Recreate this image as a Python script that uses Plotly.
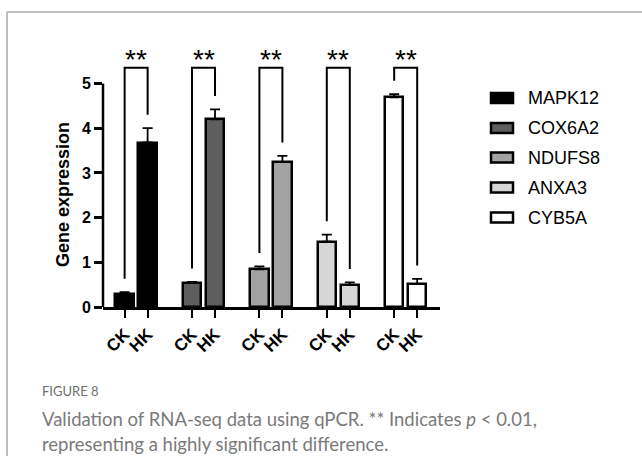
import plotly.graph_objects as go

# ---------------- data ----------------
genes = ["MAPK12", "COX6A2", "NDUFS8", "ANXA3", "CYB5A"]
groups = ["CK", "HK"]
ck_mean = [0.30, 0.54, 0.84, 1.46, 4.69]
ck_err = [0.03, 0.02, 0.07, 0.16, 0.07]
hk_mean = [3.68, 4.20, 3.24, 0.49, 0.51]
hk_err = [0.32, 0.22, 0.14, 0.06, 0.12]
sig_labels = ["**", "**", "**", "**", "**"]
bar_colors = ["#000000", "#5e5e5e", "#a3a3a3", "#d6d6d6", "#ffffff"]
y_ticks = [0, 1, 2, 3, 4, 5]
caption_title = "FIGURE 8"
caption_line1 = "Validation of RNA-seq data using qPCR. ** Indicates <i>p</i> &lt; 0.01,"
caption_line2 = "representing a highly significant difference."

# ---------------- layout geometry ----------------
W_FIG, H_FIG = 642, 456
L, R, T, B = 103, 202, 40, 149
PW, PH = W_FIG - L - R, H_FIG - T - B
GROUP_STEP = 2.93
Y_TOP = PH / 44.7
X_RANGE = [-0.94, -0.94 + PW / 23.0]
BRACKET_GAP = 0.30
BRACKET_TOP = 5.35
STAR_Y = 5.68


def px_x(px):
    return (px - L) / PW


def px_y(py):
    return (T + PH - py) / PH


AX_FONT = "Arial, Liberation Sans, sans-serif"
CAP_FONT = "Lato, Open Sans, sans-serif"

fig = go.Figure()

tickvals, ticktext = [], []
for i, g in enumerate(genes):
    xc = i * GROUP_STEP
    xh = xc + 1
    tickvals += [xc, xh]
    ticktext += groups
    fig.add_trace(go.Bar(
        x=[xc, xh], y=[ck_mean[i], hk_mean[i]], width=0.8,
        marker=dict(color=bar_colors[i], line=dict(color="black", width=2.5)),
        error_y=dict(type="data", symmetric=False, array=[ck_err[i], hk_err[i]],
                     arrayminus=[0, 0], color="black", thickness=1.8, width=5),
        name=g, showlegend=False,
    ))
    # significance bracket
    leg_c = ck_mean[i] + ck_err[i] + BRACKET_GAP
    leg_h = hk_mean[i] + hk_err[i] + BRACKET_GAP
    fig.add_trace(go.Scatter(
        x=[xc, xc, xh, xh], y=[leg_c, BRACKET_TOP, BRACKET_TOP, leg_h],
        mode="lines", line=dict(color="black", width=2), showlegend=False,
        hoverinfo="skip", cliponaxis=False,
    ))
    fig.add_annotation(x=(xc + xh) / 2, y=STAR_Y, text=sig_labels[i], showarrow=False,
                       font=dict(family=AX_FONT, size=28, color="black"),
                       xanchor="center", yanchor="middle", yshift=-6)

shapes = []
# y axis line from 0 to 5 only
shapes.append(dict(type="line", xref="paper", yref="paper", x0=0, x1=0,
                   y0=0, y1=5 / Y_TOP, line=dict(color="black", width=2.5)))
# outer frame (gray)
shapes.append(dict(type="line", xref="paper", yref="paper", x0=px_x(7), x1=px_x(7),
                   y0=px_y(12), y1=px_y(470), line=dict(color="#bdbdbd", width=2)))
shapes.append(dict(type="line", xref="paper", yref="paper", x0=px_x(7), x1=px_x(650),
                   y0=px_y(12), y1=px_y(12), line=dict(color="#bdbdbd", width=2)))

# manual legend
leg_rows = [98, 128, 157.5, 187.5, 217.5]
for i, g in enumerate(genes):
    yc = leg_rows[i]
    shapes.append(dict(type="rect", xref="paper", yref="paper",
                       x0=px_x(491), x1=px_x(513), y0=px_y(yc + 5), y1=px_y(yc - 5),
                       fillcolor=bar_colors[i], line=dict(color="black", width=2.5)))
    fig.add_annotation(xref="paper", yref="paper", x=px_x(526), y=px_y(yc), text=g,
                       showarrow=False, xanchor="left", yanchor="middle",
                       font=dict(family=AX_FONT, size=18, color="black"))

# y axis title
fig.add_annotation(xref="paper", yref="paper", x=px_x(63), y=px_y(195),
                   text="Gene expression", textangle=-90, showarrow=False,
                   xanchor="center", yanchor="middle",
                   font=dict(family=AX_FONT, size=18, color="black", weight="bold"))

# caption
fig.add_annotation(xref="paper", yref="paper", x=px_x(40), y=px_y(391), text=caption_title,
                   showarrow=False, xanchor="left", yanchor="middle",
                   font=dict(family="Liberation Sans Narrow, Lato, sans-serif", size=13,
                             color="#6f6f6f"))
fig.add_annotation(xref="paper", yref="paper", x=px_x(40), y=px_y(419), text=caption_line1,
                   showarrow=False, xanchor="left", yanchor="middle", align="left",
                   font=dict(family=CAP_FONT, size=18.5, color="#7a7a7a"))
fig.add_annotation(xref="paper", yref="paper", x=px_x(40), y=px_y(444), text=caption_line2,
                   showarrow=False, xanchor="left", yanchor="middle", align="left",
                   font=dict(family=CAP_FONT, size=18.5, color="#7a7a7a"))

fig.update_layout(
    width=W_FIG, height=H_FIG,
    margin=dict(l=L, r=R, t=T, b=B, pad=0),
    paper_bgcolor="white", plot_bgcolor="white",
    showlegend=False, bargap=0, shapes=shapes,
    xaxis=dict(range=X_RANGE, tickvals=tickvals, ticktext=ticktext, tickangle=-45,
               showline=True, linecolor="black", linewidth=2.5, showgrid=False,
               zeroline=False, ticks="outside", ticklen=8, tickwidth=2.2,
               tickcolor="black", automargin=False,
               tickfont=dict(family=AX_FONT, size=17, color="black", weight="bold")),
    yaxis=dict(range=[0, Y_TOP], tickvals=y_ticks, showline=False, showgrid=False,
               zeroline=False, ticks="outside", ticklen=8, tickwidth=2.5,
               tickcolor="black", automargin=False,
               tickfont=dict(family=AX_FONT, size=16, color="black", weight="bold")),
)

fig.write_html("out.html", config={"displayModeBar": False},
               post_script="document.body.style.margin='0';")
